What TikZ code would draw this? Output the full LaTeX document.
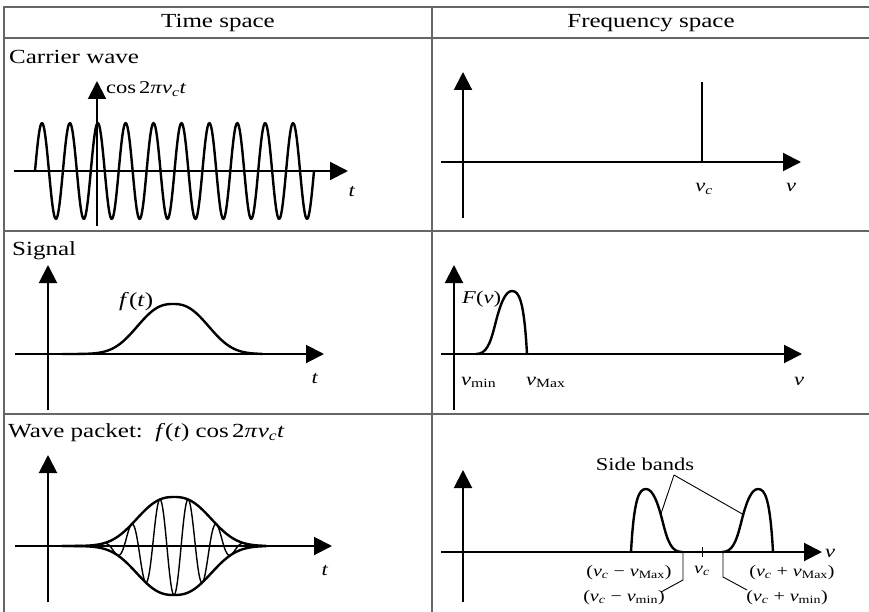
\documentclass[tikz,border=0pt]{standalone}
\usepackage{fontspec}
\setmainfont{Liberation Serif}[FakeStretch=1.25]
\usetikzlibrary{arrows.meta}

\newcommand{\titlefont}{\fontsize{20}{24}\selectfont}
\newcommand{\labelfont}{\fontsize{18}{22}\selectfont}
\newcommand{\notefont}{\fontsize{16}{19}\selectfont}
\newcommand{\nuc}{\textit{ν}\textsubscript{\textit{c}}}
\newcommand{\numin}{\textit{ν}\textsubscript{min}}
\newcommand{\numax}{\textit{ν}\textsubscript{Max}}

\tikzset{
  tablerule/.style={black!60, line width=1.3pt},
  axisarrow/.style={-{Triangle[length=18pt,width=18pt]}, line width=2pt},
  plotline/.style={line width=2.4pt, line join=round},
  fineline/.style={line width=1.4pt},
  leader/.style={line width=0.9pt},
  band/.pic={
    \draw[plotline] (0,0) .. controls (10,0) and (14,-9) .. (19,-29)
      .. controls (24,-49) and (29,-63) .. (36,-63)
      .. controls (43,-63) and (48,-54) .. (51,0);
    \coordinate (-lead) at (21.25,-37.5);
  }
}

\begin{document}
\begin{tikzpicture}[x=1pt, y=-1pt,
  every node/.style={inner sep=0pt, font=\labelfont},
  declare function={env(\d)=exp(-(abs(\d)+0.0001)^2.5);}]

\useasboundingbox (0,0) rectangle (869,612);

% table
\foreach \y in {7,38,231,414}
  \draw[tablerule] (3,\y) -- (869,\y);
\draw[tablerule] (4,7) -- (4,612);
\draw[tablerule] (432,7) -- (432,612);

\node[anchor=base, font=\titlefont] (hdtime) at (218,28) {Time space};
\node[anchor=base, font=\titlefont] (hdfreq) at (651,28) {Frequency space};

% carrier wave
\node[anchor=base west, font=\titlefont] (carrier) at (9,64) {Carrier wave};
\draw[axisarrow] (14,171) -- (348,171);
\draw[axisarrow] (97,226) -- (97,81);
\draw[plotline] plot[domain=35:314, samples=300, smooth]
  (\x, {171-48*sin((\x-35)/27.9*360)});
\node[anchor=base west] (coslbl) at (106,94) {cos\,2\textit{π}\nuc\textit{t}};
\node[anchor=base] (tone) at (352,197) {\textit{t}};

\draw[axisarrow] (441,162) -- (801,162);
\draw[axisarrow] (463,218) -- (463,72);
\draw[line width=2.6pt] (702,162) -- (702,82);
\node[anchor=base] (nucone) at (704,192) {\nuc};
\node[anchor=base] (nuone) at (791,192) {\textit{ν}};

% signal
\node[anchor=base west, font=\titlefont] (signal) at (12,255) {Signal};
\draw[axisarrow] (15,354) -- (324,354);
\draw[axisarrow] (48,410) -- (48,265);
\draw[plotline] plot[domain=62:262, samples=150, smooth]
  (\x, {354-50*env((\x-173)/44)});
\node[anchor=base west, font=\titlefont] (flbl) at (119,306) {\textit{f}(\textit{t})};
\node[anchor=base] (ttwo) at (315,383) {\textit{t}};

\draw[axisarrow] (441,354) -- (802,354);
\draw[axisarrow] (454,410) -- (454,265);
\pic (spec) at (476,354) {band};
\node[anchor=base west] (Flbl) at (462,303) {\textit{F}(\textit{ν})};
\node[anchor=base west] (numinlbl) at (461,385) {\numin};
\node[anchor=base west] (numaxlbl) at (526,385) {\numax};
\node[anchor=base] (nutwo) at (799,385) {\textit{ν}};

% wave packet
\node[anchor=base west, font=\titlefont] (packet) at (8,437)
  {Wave packet:\ \ \textit{f}(\textit{t}) cos\,2\textit{π}\nuc\textit{t}};
\draw[axisarrow] (15,546) -- (332,546);
\draw[axisarrow] (48,602) -- (48,455);
\draw[plotline] plot[domain=62:266, samples=150, smooth]
  (\x, {546-49*env((\x-174)/46)});
\draw[plotline] plot[domain=62:266, samples=150, smooth]
  (\x, {546+49*env((\x-174)/46)});
\draw[fineline] plot[domain=95:252, samples=400, smooth]
  (\x, {546+49*env((\x-174)/46)*cos((\x-174)/28.5*360)});
\node[anchor=base] (tthree) at (325,575) {\textit{t}};

\draw[axisarrow] (441,552) -- (822,552);
\draw[axisarrow] (463,602) -- (463,470);
\pic (rband) at (722,552) {band};
\pic[xscale=-1] (lband) at (682,552) {band};
\draw[line width=1pt] (702,547) -- (702,557);
\node[anchor=base] (nuthree) at (830,557) {\textit{ν}};

\node[anchor=base] (sidebands) at (645,470) {Side bands};
\coordinate (sbfoot) at (674,475);
\draw[leader] (sbfoot) -- (lband-lead);
\draw[leader] (sbfoot) -- (rband-lead);

\node[anchor=base, font=\notefont] (lmax) at (629,576) {(\nuc\ − \numax)};
\node[anchor=base, font=\notefont] (cmid) at (702,573) {\nuc};
\node[anchor=base, font=\notefont] (rmax) at (792,576) {(\nuc\ + \numax)};
\node[anchor=base, font=\notefont] (lmin) at (624,601) {(\nuc\ − \numin)};
\node[anchor=base, font=\notefont] (rmin) at (787,601) {(\nuc\ + \numin)};

\coordinate (lminax) at (683,552);
\coordinate (lminbend) at (683,580);
\coordinate (lminend) at (661,592);
\draw[leader] (lminax) -- (lminbend) -- (lminend);
\coordinate (rminax) at (723,552);
\coordinate (rminbend) at (723,577);
\coordinate (rminend) at (747,590);
\draw[leader] (rminax) -- (rminbend) -- (rminend);

\end{tikzpicture}
\end{document}
